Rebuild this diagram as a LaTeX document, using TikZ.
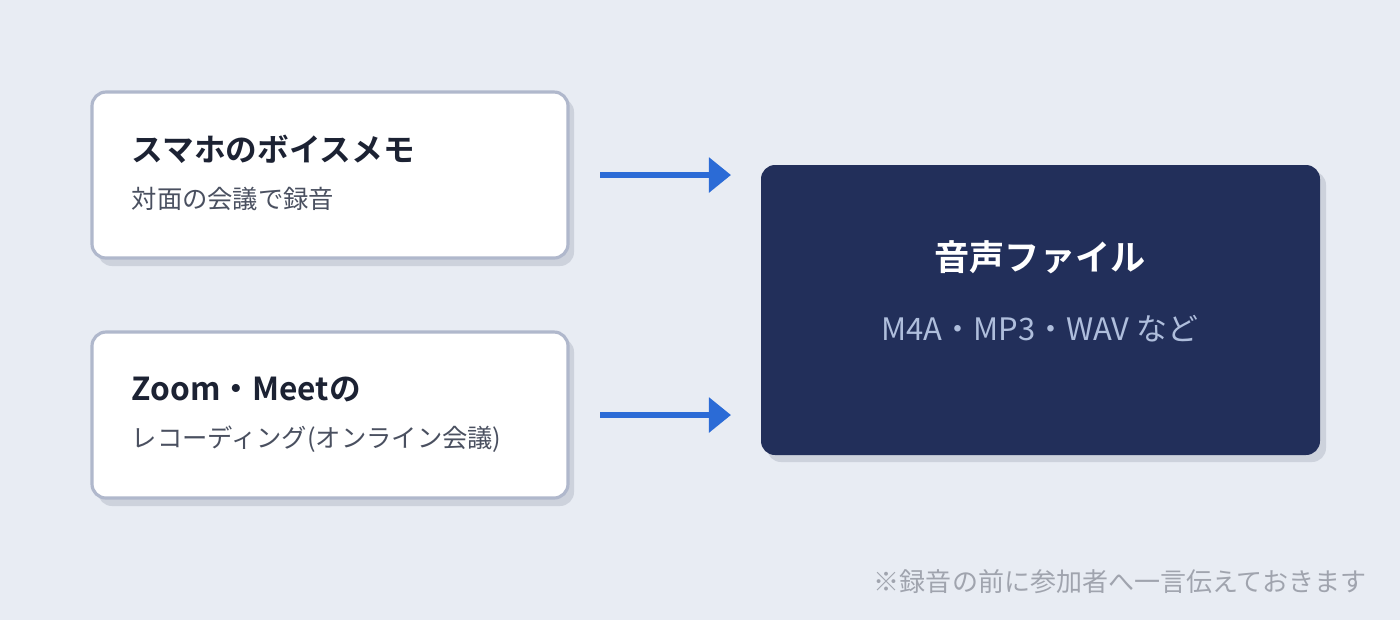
\documentclass[tikz,border=0pt]{standalone}
\usepackage{fontspec}
\setmainfont{Noto Sans CJK JP}
\newfontfamily\jpbold{Noto Sans CJK JP Bold}
\usetikzlibrary{arrows.meta,positioning}
\definecolor{bgc}{HTML}{E8ECF3}
\definecolor{edgec}{HTML}{B0B8CC}
\definecolor{shadowc}{HTML}{CDD2DC}
\definecolor{navyc}{HTML}{222F5A}
\definecolor{bluec}{HTML}{2B6BD6}
\definecolor{subc}{HTML}{4A5060}
\definecolor{titlec}{HTML}{1C2233}
\definecolor{lightc}{HTML}{AFBEDC}
\definecolor{notec}{HTML}{A0A4AE}

\begin{document}
\begin{tikzpicture}[
    x=0.01cm, y=-0.01cm,
    card/.style={draw=edgec, line width=0.9pt, fill=white, rounded corners=0.14cm},
    shade/.style={fill=shadowc, rounded corners=0.14cm},
    title/.style={anchor=west, font=\jpbold\fontsize{9}{11}\selectfont, text=titlec, inner sep=0},
    sub/.style={anchor=west, font=\fontsize{7.2}{9}\selectfont, text=subc, inner sep=0},
    flow/.style={-{Triangle[length=0.22cm,width=0.34cm]}, bluec, line width=1.6pt}
]

% Background
\fill[bgc] (0,0) rectangle (1400,620);

% Source cards
\fill[shade] (98,98) rectangle (574,266);
\draw[card] (92,92) rectangle (568,258);
\fill[shade] (98,338) rectangle (574,506);
\draw[card] (92,332) rectangle (568,498);

\node[title] (voice) at (131,149) {スマホのボイスメモ};
\node[sub] (voicesub) at (131,199) {対面の会議で録音};
\node[title] (zoom) at (131,389) {Zoom・Meetの};
\node[sub] (zoomsub) at (131,439) {レコーディング(オンライン会議)};

% Output card
\fill[shade] (767,171) rectangle (1326,462);
\fill[navyc, rounded corners=0.14cm] (761,165) rectangle (1320,455);
\node[font=\jpbold\fontsize{10}{12}\selectfont, text=white, inner sep=0] (audio) at (1040,257) {音声ファイル};
\node[font=\fontsize{8.8}{10}\selectfont, text=lightc, inner sep=0] (formats) at (1040,329) {M4A・MP3・WAV など};

% Arrows
\coordinate (a1) at (600,175);
\coordinate (b1) at (731,175);
\coordinate (a2) at (600,415);
\coordinate (b2) at (731,415);
\draw[flow] (a1) -- (b1);
\draw[flow] (a2) -- (b2);

% Note
\node[anchor=east, font=\fontsize{7.4}{9}\selectfont, text=notec, inner sep=0] (note) at (1367,582) {※録音の前に参加者へ一言伝えておきます};

\end{tikzpicture}
\end{document}
